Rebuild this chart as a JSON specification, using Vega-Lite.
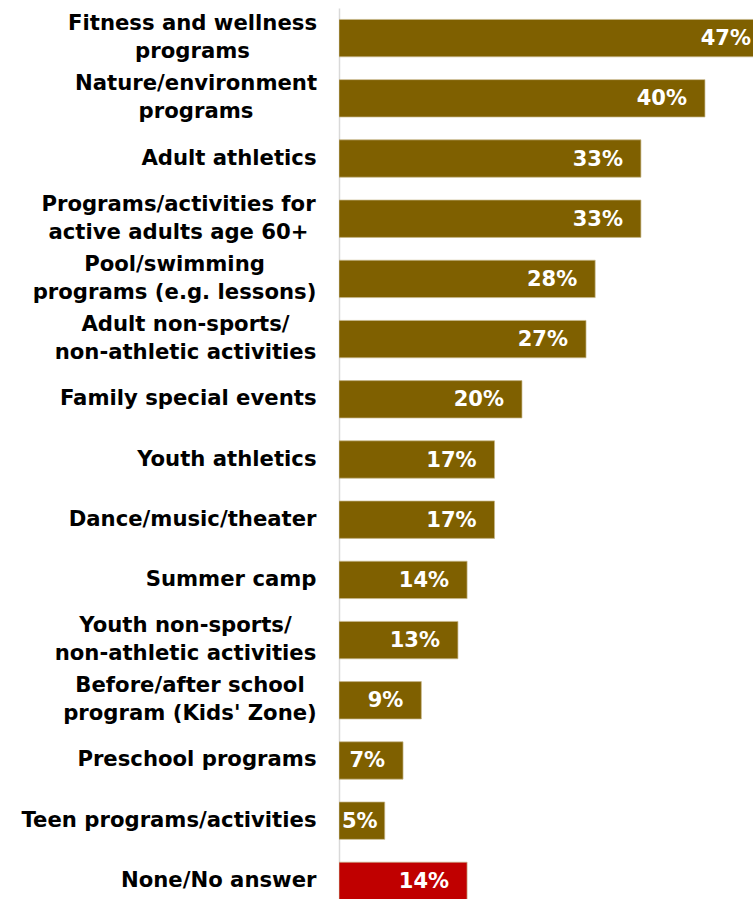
{
  "$schema": "https://vega.github.io/schema/vega-lite/v6.json",
  "autosize": "none",
  "width": 414,
  "height": 903,
  "padding": {"left": 339, "top": 8, "right": 0, "bottom": 0},
  "background": "white",
  "config": {"view": {"stroke": null}, "font": "DejaVu Sans"},
  "data": {
    "values": [
      {"item": "Fitness and wellness\nprograms", "value": 47, "type": "program"},
      {"item": "Nature/environment\nprograms", "value": 40, "type": "program"},
      {"item": "Adult athletics", "value": 33, "type": "program"},
      {"item": "Programs/activities for\nactive adults age 60+", "value": 33, "type": "program"},
      {"item": "Pool/swimming\nprograms (e.g. lessons)", "value": 28, "type": "program"},
      {"item": "Adult non-sports/\nnon-athletic activities", "value": 27, "type": "program"},
      {"item": "Family special events", "value": 20, "type": "program"},
      {"item": "Youth athletics", "value": 17, "type": "program"},
      {"item": "Dance/music/theater", "value": 17, "type": "program"},
      {"item": "Summer camp", "value": 14, "type": "program"},
      {"item": "Youth non-sports/\nnon-athletic activities", "value": 13, "type": "program"},
      {"item": "Before/after school\nprogram (Kids' Zone)", "value": 9, "type": "program"},
      {"item": "Preschool programs", "value": 7, "type": "program"},
      {"item": "Teen programs/activities", "value": 5, "type": "program"},
      {"item": "None/No answer", "value": 14, "type": "none"}
    ]
  },
  "transform": [{"calculate": "datum.value + '%'", "as": "lbl"}],
  "encoding": {
    "y": {
      "field": "item",
      "type": "nominal",
      "sort": null,
      "scale": {"paddingInner": 0.379, "paddingOuter": 0.19},
      "axis": {
        "title": null,
        "orient": "left",
        "domain": true,
        "domainColor": "#D9D9D9",
        "domainWidth": 1.5,
        "ticks": false,
        "grid": false,
        "labelFont": "DejaVu Sans",
        "labelFontWeight": "bold",
        "labelFontSize": 21.2,
        "labelColor": "#000000",
        "labelLineHeight": 28,
        "labelLimit": 0,
        "labelExpr": "split(datum.label, '\\n')",
        "labelAlign": {"condition": {"test": "indexof(datum.value, '\\n') >= 0", "value": "center"}, "value": "right"},
        "labelOffset": {"condition": {"test": "indexof(datum.value, '\\n') >= 0", "value": -14}, "value": 0},
        "labelPadding": {
          "condition": [
            {"test": "indexof(datum.value, 'Fitness') === 0", "value": 147},
            {"test": "indexof(datum.value, 'Nature') === 0", "value": 143.5},
            {"test": "indexof(datum.value, 'Programs/') === 0", "value": 161},
            {"test": "indexof(datum.value, 'Pool') === 0", "value": 165},
            {"test": "indexof(datum.value, 'Adult non') === 0", "value": 154},
            {"test": "indexof(datum.value, 'Youth non') === 0", "value": 154},
            {"test": "indexof(datum.value, 'Before') === 0", "value": 149.5}
          ],
          "value": 23
        }
      }
    }
  },
  "layer": [
    {
      "mark": {"type": "bar", "clip": true, "stroke": "#C8B88C", "strokeWidth": 1, "strokeOpacity": 0.7},
      "encoding": {
        "x": {"field": "value", "type": "quantitative", "scale": {"domain": [0, 45.25], "nice": false}, "axis": null},
        "color": {"field": "type", "type": "nominal", "scale": {"domain": ["program", "none"], "range": ["#7F6000", "#C00000"]}, "legend": null}
      }
    },
    {
      "transform": [{"filter": "datum.value >= 6"}],
      "mark": {"type": "text", "align": "right", "baseline": "middle", "dx": -18, "dy": 1, "font": "DejaVu Sans", "fontWeight": "bold", "fontSize": 21, "color": "#FFFFFF"},
      "encoding": {
        "x": {"field": "value", "type": "quantitative"},
        "text": {"field": "lbl", "type": "nominal"}
      }
    },
    {
      "transform": [{"filter": "datum.value < 6"}],
      "mark": {"type": "text", "align": "left", "baseline": "middle", "dx": 3, "dy": 1, "font": "DejaVu Sans", "fontWeight": "bold", "fontSize": 21, "color": "#FFFFFF"},
      "encoding": {
        "x": {"datum": 0, "type": "quantitative"},
        "text": {"field": "lbl", "type": "nominal"}
      }
    }
  ]
}
